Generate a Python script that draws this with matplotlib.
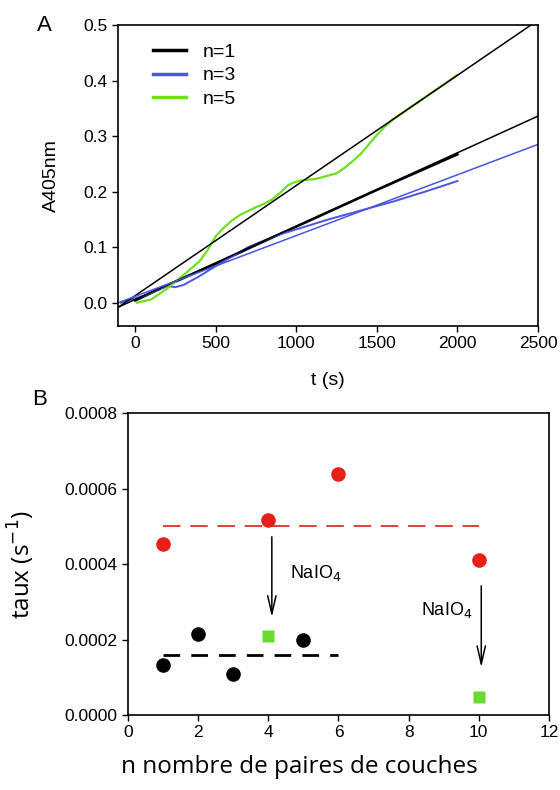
import matplotlib
matplotlib.use('Agg')
import matplotlib.pyplot as plt
import numpy as np
from matplotlib.ticker import FormatStrFormatter

plt.rcParams['font.family'] = ['Liberation Sans', 'DejaVu Sans']

# ---- panel A data (A405nm vs t) ----
t_green = [10, 100, 200, 300, 400, 450, 500, 550, 600, 650, 700, 750, 800, 850, 900, 950, 1000,
           1050, 1100, 1150, 1200, 1250, 1300, 1350, 1400, 1450, 1500, 1550, 1600, 1700, 1800, 1900, 2000]
a_green = [0.0, 0.006, 0.026, 0.05, 0.075, 0.095, 0.12, 0.135, 0.148, 0.158, 0.165, 0.172, 0.178,
           0.186, 0.198, 0.212, 0.218, 0.221, 0.222, 0.225, 0.229, 0.233, 0.243, 0.255, 0.268, 0.285,
           0.302, 0.317, 0.33, 0.35, 0.37, 0.39, 0.41]
t_blue = [-90, 0, 50, 100, 150, 200, 250, 300, 350, 400, 500, 600, 700, 800, 900, 1000, 1200, 1400,
          1600, 1800, 2000]
a_blue = [0.0, 0.008, 0.012, 0.018, 0.025, 0.03, 0.028, 0.032, 0.04, 0.048, 0.066, 0.083, 0.1,
          0.112, 0.123, 0.132, 0.15, 0.166, 0.182, 0.2, 0.219]
t_black = [0, 250, 500, 750, 1000, 1250, 1500, 1750, 2000]
a_black = [0.004, 0.038, 0.07, 0.104, 0.137, 0.17, 0.203, 0.235, 0.267]

# linear fits (slope, intercept)
fit_black_steep = (0.0001983, 0.0128)
fit_black = (0.000132, 0.0059)
fit_blue = (0.0001094, 0.0115)
t_fit = np.array([-105, 2500])

# ---- panel B data (taux vs n) ----
n_red = [1, 4, 6, 10]
taux_red = [0.000453, 0.000517, 0.000638, 0.00041]
n_black = [1, 2, 3, 5]
taux_black = [0.000132, 0.000215, 0.00011, 0.0002]
n_green = [4, 10]
taux_green = [0.00021, 0.000047]
mean_red = 0.0005
mean_black = 0.00016

fig = plt.figure(figsize=(5.6, 7.9), dpi=100)

# ================= A =================
ax1 = fig.add_axes([0.2113, 0.5873, 0.7494, 0.3811])
c_blue = '#4a55e0'
c_green = '#6ee01e'
ax1.plot(t_black, a_black, color='black', lw=1.8, label='n=1')
ax1.plot(t_blue, a_blue, color=c_blue, lw=1.4, label='n=3')
ax1.plot(t_green, a_green, color=c_green, lw=1.6, label='n=5')
for s, b, c in [(fit_black_steep[0], fit_black_steep[1], 'black'),
                (fit_black[0], fit_black[1], 'black'),
                (fit_blue[0], fit_blue[1], c_blue)]:
    ax1.plot(t_fit, s * t_fit + b, color=c, lw=1.1)

ax1.set_xlim(-105, 2500)
ax1.set_ylim(-0.042, 0.5)
ax1.set_xticks([0, 500, 1000, 1500, 2000, 2500])
ax1.set_yticks([0.0, 0.1, 0.2, 0.3, 0.4, 0.5])
ax1.yaxis.set_major_formatter(FormatStrFormatter('%.1f'))
ax1.tick_params(direction='out', length=4, width=1, labelsize=12.5, top=False, right=False)
ax1.set_xlabel('t (s)', fontsize=14, labelpad=15)
ax1.set_ylabel('A405nm', fontsize=14)
ax1.yaxis.set_label_coords(-0.139, 0.5)
for sp in ax1.spines.values():
    sp.set_linewidth(1.2)
leg = ax1.legend(loc='upper left', bbox_to_anchor=(0.04, 0.997), frameon=False, fontsize=14,
                 handlelength=1.7, handletextpad=0.9, labelspacing=0.3)
for h in leg.get_lines():
    h.set_linewidth(2.5)
fig.text(0.08, 0.968, 'A', fontsize=16, ha='center', va='center')

# ================= B =================
ax2 = fig.add_axes([0.2286, 0.0949, 0.7517, 0.3819])
ax2.plot([1, 10], [mean_red, mean_red], color='#e83a3a', lw=1.4, dashes=(9, 5))
ax2.plot([1, 6], [mean_black, mean_black], color='black', lw=2, dashes=(6, 4))
ax2.plot(n_red, taux_red, 'o', color='#e8201a', ms=10.5, mec='none')
ax2.plot(n_black, taux_black, 'o', color='black', ms=10.5, mec='none')
ax2.plot(n_green, taux_green, 's', color='#66dd2e', ms=8.5, mec='none')

arrow = dict(arrowstyle='->,head_length=1.3,head_width=0.3', color='black', lw=1.1)
ax2.annotate('', xy=(4.1, 0.000252), xytext=(4.1, 0.00048), arrowprops=arrow)
ax2.annotate('', xy=(10.07, 0.000119), xytext=(10.07, 0.00035), arrowprops=arrow)
ax2.text(5.36, 0.000376, 'NaIO$_4$', fontsize=13, ha='center', va='center')
ax2.text(9.08, 0.000278, 'NaIO$_4$', fontsize=13, ha='center', va='center')

ax2.set_xlim(0, 12)
ax2.set_ylim(0, 0.0008)
ax2.set_xticks(range(0, 13, 2))
ax2.set_yticks([0, 0.0002, 0.0004, 0.0006, 0.0008])
ax2.yaxis.set_major_formatter(FormatStrFormatter('%.4f'))
ax2.tick_params(direction='out', length=4, width=1, labelsize=12.5, top=False, right=False)
for sp in ax2.spines.values():
    sp.set_linewidth(1.2)
ax2.set_xlabel('n nombre de paires de couches', fontsize=17.5,
               family=['Open Sans', 'DejaVu Sans'])
ax2.xaxis.set_label_coords(0.406, -0.132)
ax2.set_ylabel('taux (s$^{-1}$)', fontsize=17.5, family=['Open Sans', 'DejaVu Sans'])
ax2.yaxis.set_label_coords(-0.216, 0.5)
fig.text(0.071, 0.494, 'B', fontsize=16, ha='center', va='center')

fig.savefig('out.png', dpi=100)
